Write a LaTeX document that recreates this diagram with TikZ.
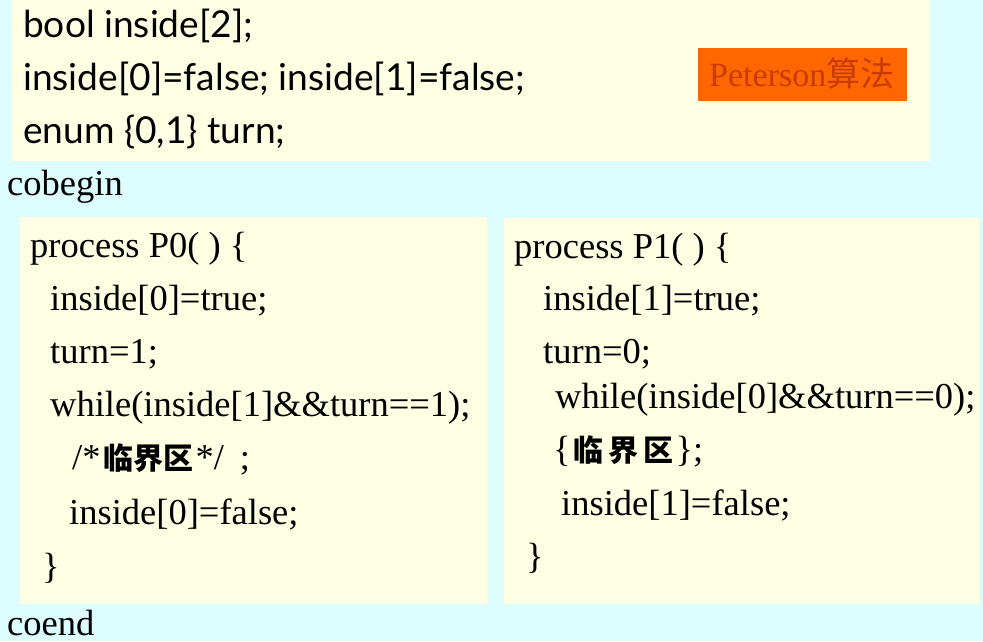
\documentclass[tikz,border=0pt]{standalone}
\usepackage{fontspec}
\setmainfont{Liberation Serif}
\newfontfamily\topfont{Lato}
\newfontfamily\cjk{Noto Sans CJK SC}
\definecolor{bgc}{HTML}{DCFCFE}
\definecolor{boxc}{HTML}{FFFFE3}
\definecolor{orng}{HTML}{FF6600}
\definecolor{orngtxt}{HTML}{C83C00}
\newcommand\zhc[2]{\makebox[#1pt]{\cjk\bfseries\fontsize{30}{32}\selectfont #2}}
\newsavebox\tmeasure
\newlength\tmeasurewd
\begin{document}
\sbox\tmeasure{\topfont\fontsize{10}{12}\selectfont inside[0]=false; inside[1]=false;}%
\setlength\tmeasurewd{\wd\tmeasure}%
\pgfmathsetmacro\topsz{10*502/\tmeasurewd}%
\begin{tikzpicture}[x=1pt,y=-1pt,
  every node/.style={inner sep=0pt, anchor=base west},
  code/.style={font=\fontsize{36.5}{40}\selectfont},
  tcode/.style={font=\topfont\fontsize{\topsz}{30}\selectfont}]
\fill[bgc] (0,0) rectangle (983,641);
\useasboundingbox (0,0) rectangle (983,641);
% boxes
\fill[boxc] (12,0) rectangle (930,161);
\fill[orng] (698,48) rectangle (907,101);
\fill[boxc] (20,217) rectangle (487,604);
\fill[boxc] (504,218) rectangle (979,604);
% top declarations
\node[tcode] (t1) at (23,37) {bool inside[2];};
\node[tcode] (t2) at (23,90) {inside[0]=false; inside[1]=false;};
\node[tcode] (t3) at (23,143) {enum \{0,1\} turn;};
\node[font=\fontsize{34}{36}\selectfont, text=orngtxt] (pet) at (709,86) {Peterson{\cjk 算法}};
\node[code] (cobegin) at (7,195) {cobegin};
\node[code] (coend) at (7,635) {coend};
% process P0
\node[code] (a1) at (30,257) {process P0( ) \{};
\node[code] (a2) at (50,310) {inside[0]=true;};
\node[code] (a3) at (50,363) {turn=1;};
\node[code] (a4) at (50,416) {while(inside[1]\&\&turn==1);};
\node[code] (a5) at (72,469) {/*\hspace{3pt}\zhc{30}{临}\zhc{30}{界}\zhc{30}{区}\hspace{2pt}*/\hspace{16pt};};
\node[code] (a6) at (69,524) {inside[0]=false;};
\node[code] (a7) at (42,578) {\}};
% process P1
\node[code] (b1) at (514,258) {process P1( ) \{};
\node[code] (b2) at (543,310) {inside[1]=true;};
\node[code] (b3) at (543,363) {turn=0;};
\node[code] (b4) at (555,408) {while(inside[0]\&\&turn==0);};
\node[code] (b5) at (553,461) {\{\zhc{35}{临}\zhc{35}{界}\zhc{35}{区}\};};
\node[code] (b6) at (561,515) {inside[1]=false;};
\node[code] (b7) at (526,568) {\}};
\end{tikzpicture}
\end{document}
